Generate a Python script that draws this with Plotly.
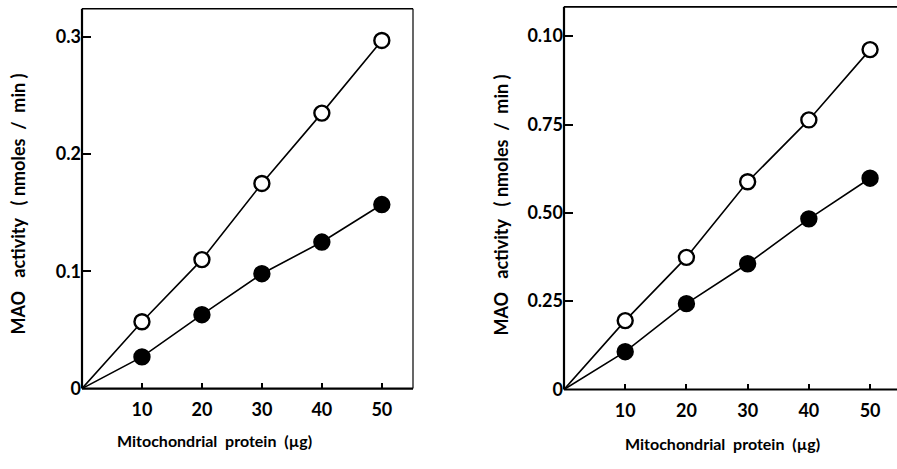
import plotly.graph_objects as go

protein = [10, 20, 30, 40, 50]

# Left panel
left_open = [0.057, 0.110, 0.175, 0.235, 0.297]
left_filled = [0.027, 0.063, 0.098, 0.125, 0.157]
left_ticks = [0, 0.1, 0.2, 0.3]
left_ticktext = ["0", "0.1", "0.2", "0.3"]

# Right panel
right_open = [0.195, 0.374, 0.588, 0.763, 0.962]
right_filled = [0.107, 0.243, 0.356, 0.483, 0.598]
right_ticks = [0, 0.25, 0.5, 0.75, 1.0]
right_ticktext = ["0", "0.25", "0.50", "0.75", "0.10"]

x_ticks = [10, 20, 30, 40, 50]
x_title = "Mitochondrial\u00a0\u00a0protein\u00a0\u00a0(\u00b5g)"
y_title = "MAO\u00a0\u00a0\u00a0activity\u00a0\u00a0\u00a0(\u00a0nmoles\u00a0\u00a0/\u00a0\u00a0min\u00a0)"

FONT = "Lato"
fig = go.Figure()

def add_panel(xa, ya, opn, fil):
    for vals, fill in ((opn, "white"), (fil, "black")):
        fig.add_trace(go.Scatter(
            x=[0] + protein, y=[0] + vals, xaxis=xa, yaxis=ya,
            mode="lines", line=dict(color="black", width=1.6),
            showlegend=False, hoverinfo="skip"))
        fig.add_trace(go.Scatter(
            x=protein, y=vals, xaxis=xa, yaxis=ya, mode="markers",
            marker=dict(size=15, color=fill, line=dict(color="black", width=2.4)),
            showlegend=False))

add_panel("x", "y", left_open, left_filled)
add_panel("x2", "y2", right_open, right_filled)

tickfont = dict(family=FONT, size=18, color="black", weight="bold")
common_x = dict(tickvals=x_ticks, ticks="inside", ticklen=6, tickwidth=1.5,
                tickcolor="black", showline=False, showgrid=False, zeroline=False,
                tickfont=tickfont, ticklabelstandoff=8)
common_y = dict(ticks="inside", ticklen=9, tickwidth=1.5, tickcolor="black",
                showline=False, showgrid=False, zeroline=False, tickfont=tickfont)

fig.update_layout(
    width=897, height=469, margin=dict(l=0, r=0, t=0, b=0),
    plot_bgcolor="white", paper_bgcolor="white",
    xaxis=dict(domain=[82/897, 413/897], range=[0, 55.2], anchor="y", **common_x),
    yaxis=dict(domain=[72/469, 460/469], range=[0, 0.324], anchor="x",
               tickvals=left_ticks, ticktext=left_ticktext, **common_y),
    xaxis2=dict(domain=[564/897, 1.0], range=[0, 54.4], anchor="y2", **common_x),
    yaxis2=dict(domain=[71/469, 462/469], range=[0, 1.083], anchor="x2",
                tickvals=right_ticks, ticktext=right_ticktext, **common_y),
)

shapes = []
for xs, ys in (("x domain", "y domain"), ("x2 domain", "y2 domain")):
    shapes.append(dict(type="line", xref=xs, yref=ys, x0=0, x1=0, y0=0, y1=1,
                       line=dict(color="black", width=2.2)))
    shapes.append(dict(type="line", xref=xs, yref=ys, x0=0, x1=1, y0=0, y1=0,
                       line=dict(color="black", width=2.2)))
    shapes.append(dict(type="line", xref=xs, yref=ys, x0=0, x1=1, y0=1, y1=1,
                       line=dict(color="black", width=1.6)))
shapes.append(dict(type="line", xref="x domain", yref="y domain", x0=1, x1=1, y0=0, y1=1,
                   line=dict(color="black", width=1.2)))
fig.update_layout(shapes=shapes)

xtitlefont = dict(family=FONT, size=16, color="black", weight="bold")
ytitlefont = dict(family=FONT, size=18, color="black", weight="bold")
fig.add_annotation(text=x_title, xref="paper", yref="paper", x=214/897, y=1-450/469,
                   showarrow=False, font=xtitlefont, xanchor="center", yanchor="middle")
fig.add_annotation(text=x_title, xref="paper", yref="paper", x=722/897, y=1-453/469,
                   showarrow=False, font=xtitlefont, xanchor="center", yanchor="middle")
fig.add_annotation(text=y_title, xref="paper", yref="paper", x=18/897, y=1-209/469,
                   showarrow=False, font=ytitlefont, textangle=-90,
                   xanchor="center", yanchor="middle")
fig.add_annotation(text=y_title, xref="paper", yref="paper", x=501/897, y=1-209/469,
                   showarrow=False, font=ytitlefont, textangle=-90,
                   xanchor="center", yanchor="middle")

fig.write_html("out.html")
